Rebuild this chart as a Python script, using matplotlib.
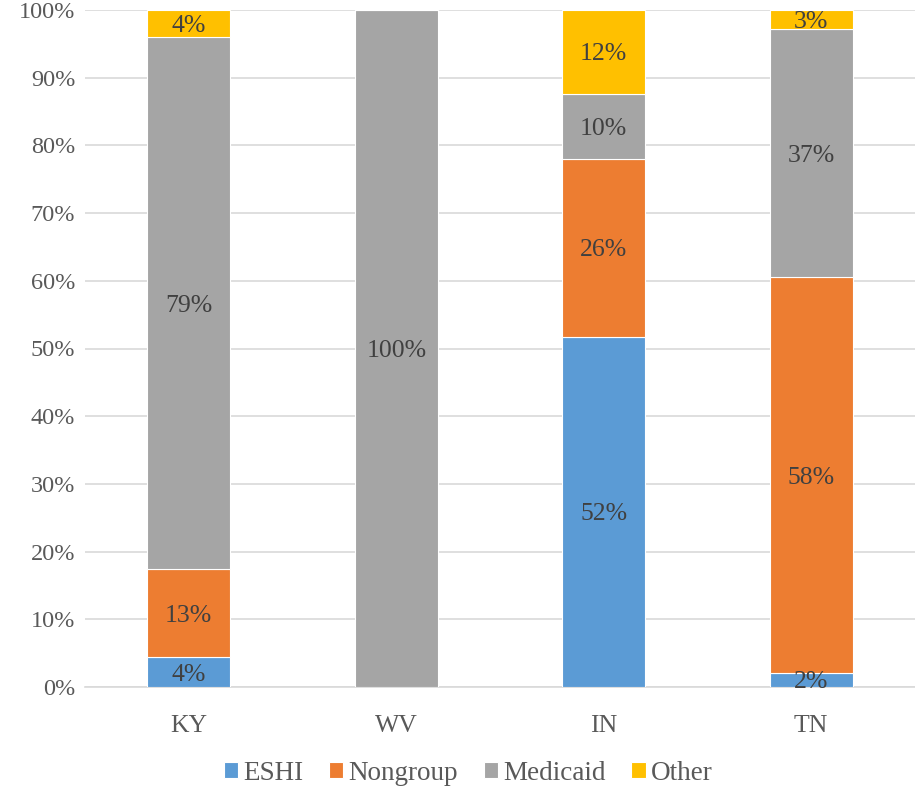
import matplotlib
matplotlib.use("Agg")
import matplotlib.pyplot as plt
import numpy as np

states = ["KY", "WV", "IN", "TN"]
series = ["ESHI", "Nongroup", "Medicaid", "Other"]
eshi = [4.4, 0.0, 51.7, 2.1]
nongroup = [13.0, 0.0, 26.3, 58.4]
medicaid = [78.6, 100.0, 9.6, 36.7]
other = [4.0, 0.0, 12.4, 2.8]
colors = ["#5B9BD5", "#ED7D31", "#A5A5A5", "#FFC000"]
yticks = [0, 10, 20, 30, 40, 50, 60, 70, 80, 90, 100]

plt.rcParams['font.family'] = ['Liberation Serif', 'DejaVu Serif']

fig = plt.figure(figsize=(9.15, 7.86), dpi=100)
ax = fig.add_axes([85/915, 1-687/786, 1-85/915, 677/786])

x = np.arange(len(states))
bottom = np.zeros(len(states))
data = [eshi, nongroup, medicaid, other]
for name, vals, c in zip(series, data, colors):
    vals = np.array(vals)
    ax.bar(x, vals, 0.4, bottom=bottom, color=c, label=name,
           edgecolor="white", linewidth=0.8, zorder=3)
    for xi, v, b in zip(x, vals, bottom):
        if v > 0:
            ax.text(xi, b + v/2, f"{round(v):.0f}%", ha="center", va="center_baseline",
                    fontsize=18.5, color="#404040", zorder=4)
    bottom += vals

ax.set_xlim(-0.5, 3.5)
ax.set_ylim(0, 100)
ax.set_yticks(yticks)
ax.set_yticklabels([f"{t}%" for t in yticks])
ax.set_xticks(x)
ax.set_xticklabels(states)
ax.tick_params(axis="both", length=0, labelsize=17.5, colors="#595959")
ax.tick_params(axis="x", labelsize=18.5, pad=20)
ax.tick_params(axis="y", pad=7)
ax.grid(axis="y", color="#D9D9D9", linewidth=1.2, zorder=0)
for s in ["top", "right", "left"]:
    ax.spines[s].set_visible(False)
ax.spines["bottom"].set_color("#D9D9D9")
ax.spines["bottom"].set_linewidth(1.2)

leg = ax.legend(loc="center", bbox_to_anchor=((468-85)/830, (687-773)/677),
                ncol=4, frameon=False, fontsize=19.5, handlelength=0.52,
                handleheight=0.52, handletextpad=0.19, columnspacing=0.96,
                borderpad=0)
for t in leg.get_texts():
    t.set_color("#595959")

fig.savefig("out.png", dpi=100)
